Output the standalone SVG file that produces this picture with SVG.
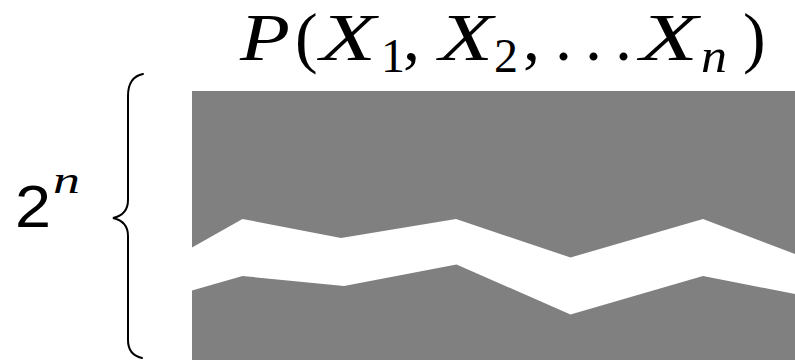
<svg xmlns="http://www.w3.org/2000/svg" width="795" height="360" viewBox="0 0 795 360">
<style>
.m{font-family:"Liberation Serif","Times New Roman",serif;fill:#000;font-size:68px}
.s{font-family:"Liberation Serif","Times New Roman",serif;fill:#000;font-size:48px}
.it{font-style:italic}
.sans{font-family:"Liberation Sans",Arial,sans-serif;fill:#000}
.brace{fill:none;stroke:#000;stroke-width:2;stroke-linecap:round}
</style>
<rect width="795" height="360" fill="#fff"/>
<g id="table">
<rect x="192" y="91" width="603" height="269" fill="#808080"/>
<polygon fill="#fff" points="192,247.5 242.5,219 341,238 456,219 570.5,257.5 703,219 795,254 795,294 703,276 570.5,314.5 456.5,264.5 344,286 242.5,276 192,290.5"/>
</g>
<g id="title">
<text x="240" y="60" class="m it" textLength="50" lengthAdjust="spacingAndGlyphs">P</text>
<text x="295" y="60" class="m">(</text>
<text x="320" y="60" class="m it" textLength="56" lengthAdjust="spacingAndGlyphs">X</text>
<text x="381" y="72" class="s">1</text>
<text x="403" y="60" class="m">,</text>
<text x="439" y="60" class="m it" textLength="54" lengthAdjust="spacingAndGlyphs">X</text>
<text x="494" y="72" class="s">2</text>
<text x="523" y="60" class="m">,</text>
<text x="555" y="60" class="m">.</text>
<text x="585" y="60" class="m">.</text>
<text x="615" y="60" class="m">.</text>
<text x="640" y="60" class="m it" textLength="58" lengthAdjust="spacingAndGlyphs">X</text>
<text x="701" y="72" class="s it" textLength="26" lengthAdjust="spacingAndGlyphs">n</text>
<text x="743" y="60" class="m">)</text>
</g>
<g id="brace">
<path class="brace" d="M143,74 C133,76 128,84 128,96 L128,200 C128,210 122,216 113,218 C122,220 128,226 128,236 L128,340 C128,350 133,356 142,358"/>
</g>
<g id="size-label">
<text x="15" y="227" class="sans" font-size="60" textLength="36" lengthAdjust="spacingAndGlyphs">2</text>
<text x="53" y="193" class="s it" font-size="38" style="font-size:38px" textLength="27" lengthAdjust="spacingAndGlyphs">n</text>
</g>
</svg>
